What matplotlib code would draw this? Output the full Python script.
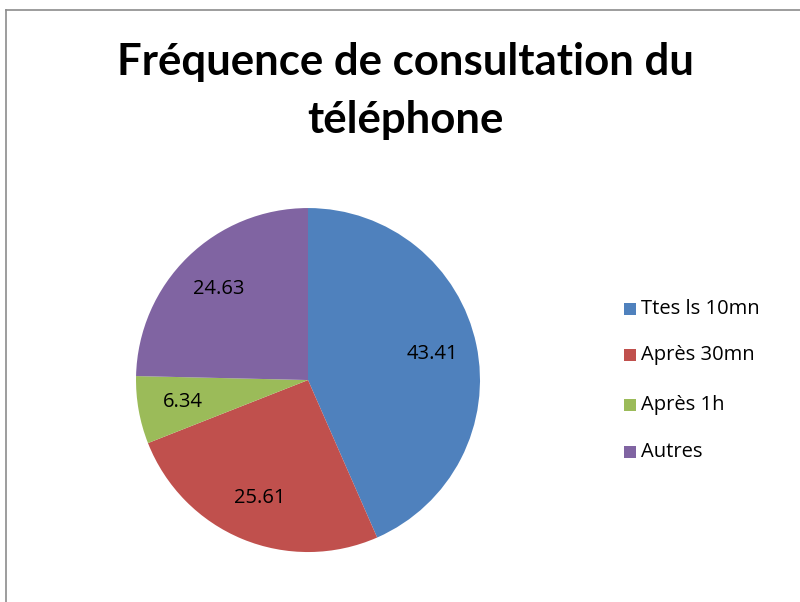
import matplotlib
matplotlib.use("Agg")
import matplotlib.pyplot as plt
from matplotlib.patches import Rectangle
import numpy as np

categories = ["Ttes ls 10mn", "Après 30mn", "Après 1h", "Autres"]
values = [43.41, 25.61, 6.34, 24.63]
colors = ["#4F81BD", "#C0504D", "#9BBB59", "#8064A2"]

plt.rcParams['font.family'] = ['Open Sans', 'DejaVu Sans']

fig = plt.figure(figsize=(8, 6.02), dpi=100)
fig.patch.set_facecolor("white")

# grey chart border (only left and top edges show)
fig.add_artist(plt.Line2D([6 / 800, 1], [1 - 10 / 602, 1 - 10 / 602],
                          transform=fig.transFigure, color="#8c8c8c", linewidth=1.2))
fig.add_artist(plt.Line2D([6 / 800, 6 / 800], [0, 1 - 10 / 602],
                          transform=fig.transFigure, color="#8c8c8c", linewidth=1.2))

fig.text(405 / 800, 1 - 62 / 602, "Fréquence de consultation du", ha="center", va="center",
         fontsize=31.5, fontweight="bold", family=["Lato", "DejaVu Sans"])
fig.text(405 / 800, 1 - 120 / 602, "téléphone", ha="center", va="center",
         fontsize=31.5, fontweight="bold", family=["Lato", "DejaVu Sans"])

ax = fig.add_axes([0.17, 0.083, 0.43, 0.5714])
wedges, texts = ax.pie(values, colors=colors, startangle=90, counterclock=False,
                       wedgeprops=dict(linewidth=0))
ax.set_xlim(-1, 1)
ax.set_ylim(-1, 1)
ax.set_aspect("equal")

for w, v in zip(wedges, values):
    ang = np.deg2rad((w.theta1 + w.theta2) / 2)
    r = 0.74
    ax.text(r * np.cos(ang), r * np.sin(ang), f"{v:.2f}", ha="center", va="center",
            fontsize=14.5)

leg_y = [309, 355, 405, 452]
for c, lab, y in zip(colors, categories, leg_y):
    fig.patches.append(Rectangle((624 / 800, 1 - (y + 6) / 602), 12 / 800, 12 / 602,
                                 transform=fig.transFigure, facecolor=c, edgecolor="none"))
    fig.text(641 / 800, 1 - y / 602, lab, ha="left", va="center", fontsize=14.5)

fig.savefig("out.png", dpi=100)
